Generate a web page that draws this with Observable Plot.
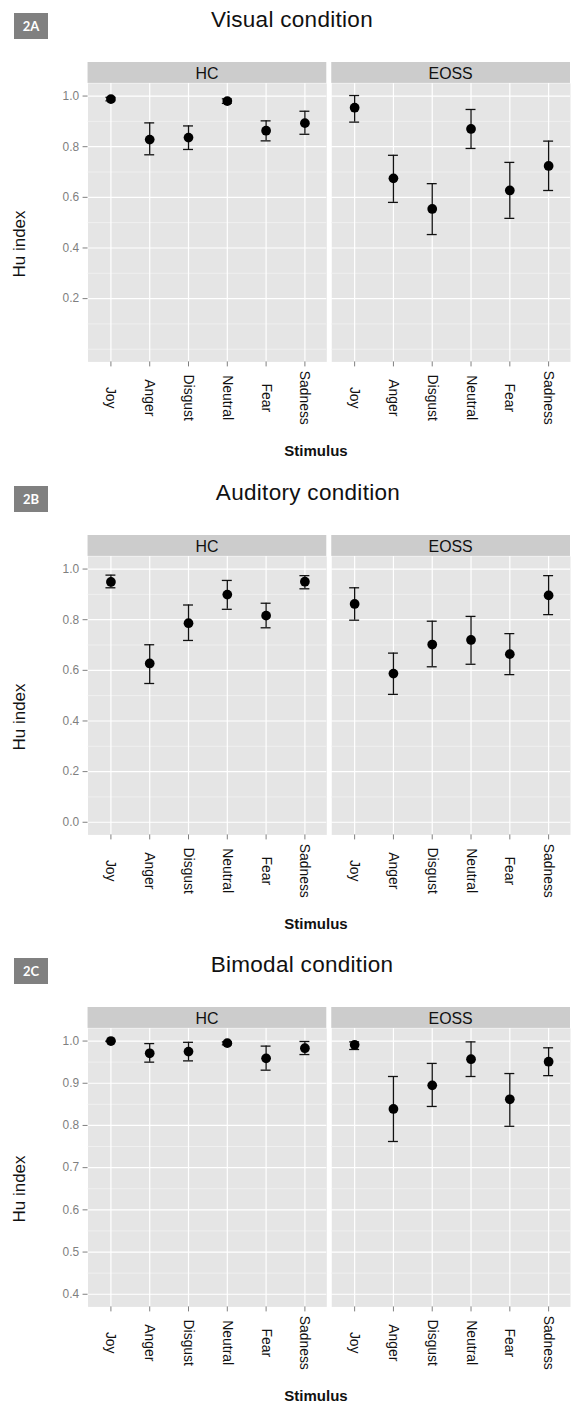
<!DOCTYPE html>
<html>
<head>
<meta charset="utf-8">
<script src="https://cdn.jsdelivr.net/npm/d3@7"></script>
<script src="https://cdn.jsdelivr.net/npm/@observablehq/plot@0.6"></script>
<style>
  html, body { margin: 0; padding: 0; background: #fff; overflow: hidden; }
  #page { position: relative; width: 571px; height: 1410px; overflow: hidden; font-family: "Liberation Sans", Arial, sans-serif; }
  .abs { position: absolute; white-space: nowrap; }
  .badge { background: #808080; color: #fff; font-family: Lato, "Open Sans", sans-serif; font-weight: bold; font-size: 13px; text-align: center; }
  .title { font-size: 22.5px; color: #111; transform: translate(-50%, -50%); letter-spacing: 0.3px; }
  .xlab { font-size: 15px; font-weight: bold; color: #111; transform: translate(-50%, -50%); }
  .ylab { font-size: 17px; color: #111; transform: translate(-50%, -50%) rotate(-90deg); }
</style>
</head>
<body>
<div id="page"></div>
<script>
const stimuli = ["Joy", "Anger", "Disgust", "Neutral", "Fear", "Sadness"];
const groups = ["HC", "EOSS"];

// 2A Visual condition
const visualHC_mean   = [0.988, 0.828, 0.836, 0.980, 0.863, 0.893];
const visualHC_lo     = [0.981, 0.768, 0.789, 0.971, 0.823, 0.849];
const visualHC_hi     = [0.995, 0.894, 0.882, 0.989, 0.902, 0.940];
const visualEOSS_mean = [0.954, 0.675, 0.554, 0.870, 0.627, 0.724];
const visualEOSS_lo   = [0.897, 0.580, 0.453, 0.793, 0.517, 0.627];
const visualEOSS_hi   = [1.002, 0.766, 0.654, 0.947, 0.738, 0.822];

// 2B Auditory condition
const auditoryHC_mean   = [0.949, 0.627, 0.786, 0.899, 0.816, 0.950];
const auditoryHC_lo     = [0.926, 0.548, 0.718, 0.841, 0.768, 0.922];
const auditoryHC_hi     = [0.976, 0.701, 0.858, 0.955, 0.865, 0.974];
const auditoryEOSS_mean = [0.862, 0.587, 0.702, 0.720, 0.664, 0.896];
const auditoryEOSS_lo   = [0.798, 0.505, 0.614, 0.624, 0.583, 0.820];
const auditoryEOSS_hi   = [0.926, 0.668, 0.794, 0.813, 0.745, 0.974];

// 2C Bimodal condition
const bimodalHC_mean   = [1.000, 0.971, 0.975, 0.995, 0.959, 0.983];
const bimodalHC_lo     = [0.999, 0.950, 0.953, 0.991, 0.931, 0.968];
const bimodalHC_hi     = [1.000, 0.994, 0.997, 0.998, 0.988, 0.999];
const bimodalEOSS_mean = [0.991, 0.839, 0.895, 0.957, 0.862, 0.951];
const bimodalEOSS_lo   = [0.980, 0.762, 0.845, 0.916, 0.798, 0.918];
const bimodalEOSS_hi   = [0.998, 0.916, 0.947, 0.998, 0.923, 0.984];

// axis ticks
const visualTicks = [0.2, 0.4, 0.6, 0.8, 1.0];
const visualMinor = [0.0, 0.1, 0.3, 0.5, 0.7, 0.9];
const auditoryTicks = [0.0, 0.2, 0.4, 0.6, 0.8, 1.0];
const auditoryMinor = [0.1, 0.3, 0.5, 0.7, 0.9];
const bimodalTicks = [0.4, 0.5, 0.6, 0.7, 0.8, 0.9, 1.0];
const bimodalMinor = [0.45, 0.55, 0.65, 0.75, 0.85, 0.95];

const badges = ["2A", "2B", "2C"];
const titles = ["Visual condition", "Auditory condition", "Bimodal condition"];
const xTitle = "Stimulus";
const yTitle = "Hu index";

const panels = [
  {badge: badges[0], title: titles[0], titleX: 292, top: 62, domain: [-0.05, 1.05], ticks: visualTicks, minor: visualMinor,
   series: [[visualHC_mean, visualHC_lo, visualHC_hi], [visualEOSS_mean, visualEOSS_lo, visualEOSS_hi]]},
  {badge: badges[1], title: titles[1], titleX: 308, top: 535, domain: [-0.05, 1.05], ticks: auditoryTicks, minor: auditoryMinor,
   series: [[auditoryHC_mean, auditoryHC_lo, auditoryHC_hi], [auditoryEOSS_mean, auditoryEOSS_lo, auditoryEOSS_hi]]},
  {badge: badges[2], title: titles[2], titleX: 302, top: 1007, domain: [0.37, 1.03], ticks: bimodalTicks, minor: bimodalMinor,
   series: [[bimodalHC_mean, bimodalHC_lo, bimodalHC_hi], [bimodalEOSS_mean, bimodalEOSS_lo, bimodalEOSS_hi]]}
];

const page = document.getElementById("page");
const FONT = "'Liberation Sans', Arial, sans-serif";
const STRIP = 21, PLOTH = 280, MLEFT = 87, W = 574, MBOTTOM = 72;

function addDiv(cls, text, css) {
  const d = document.createElement("div");
  d.className = "abs " + cls;
  d.textContent = text;
  Object.assign(d.style, css);
  page.appendChild(d);
  return d;
}

for (const p of panels) {
  const rows = groups.flatMap((g, gi) => stimuli.map((s, i) => ({
    group: g, stim: s, mean: p.series[gi][0][i], lo: p.series[gi][1][i], hi: p.series[gi][2][i]
  })));

  const plot = Plot.plot({
    width: W,
    height: STRIP + PLOTH + MBOTTOM,
    marginLeft: MLEFT, marginRight: 0, marginTop: STRIP, marginBottom: MBOTTOM,
    style: {fontFamily: FONT, background: "transparent", overflow: "visible"},
    fx: {domain: groups, paddingInner: 0.0203, paddingOuter: 0, axis: null, label: null},
    x: {type: "band", domain: stimuli, paddingInner: 0.75, paddingOuter: 0.425, label: null},
    y: {domain: p.domain, label: null},
    marks: [
      Plot.frame({fill: "#E5E5E5", stroke: "none"}),
      Plot.gridY(p.minor, {stroke: "#F2F2F2", strokeOpacity: 1, strokeWidth: 0.8}),
      Plot.gridY(p.ticks, {stroke: "#FFFFFF", strokeOpacity: 1, strokeWidth: 1.2}),
      Plot.gridX({stroke: "#FFFFFF", strokeOpacity: 1, strokeWidth: 1.2}),
      Plot.axisY(p.ticks, {tickSize: 5, tickPadding: 4, tickFormat: d3.format(".1f"), color: "#7F7F7F", fontSize: 12, label: null}),
      Plot.axisX({tickSize: 5, tickFormat: () => "", color: "#7F7F7F", label: null}),
      Plot.text(rows, {fx: "group", x: "stim", text: "stim", frameAnchor: "bottom", dy: 36, rotate: 90,
        textAnchor: "middle", lineAnchor: "middle", fontSize: 14, fill: "#111"}),
      Plot.ruleX(rows, {fx: "group", x: "stim", y1: "lo", y2: "hi", stroke: "#111", strokeWidth: 1.3}),
      Plot.tickY(rows, {fx: "group", x: "stim", y: "lo", stroke: "#111", strokeWidth: 1.3}),
      Plot.tickY(rows, {fx: "group", x: "stim", y: "hi", stroke: "#111", strokeWidth: 1.3}),
      Plot.dot(rows, {fx: "group", x: "stim", y: "mean", r: 4.9, fill: "#000", stroke: "none"})
    ]
  });

  // facet strips drawn from the fx scale
  const svg = d3.select(plot);
  let fx = null;
  try { fx = plot.scale("fx"); } catch (e) { fx = null; }
  const bw = fx && fx.bandwidth ? fx.bandwidth : (W - MLEFT - 5) / 2;
  const strips = svg.append("g");
  groups.forEach((g, i) => {
    const x0 = fx ? fx.apply(g) : MLEFT + i * (bw + 5);
    strips.append("rect").attr("x", x0).attr("y", 0).attr("width", bw).attr("height", STRIP).attr("fill", "#CCCCCC");
    strips.append("text").attr("x", x0 + bw / 2).attr("y", STRIP / 2 + 1).attr("text-anchor", "middle")
      .attr("dominant-baseline", "central").style("font-size", "16px").attr("fill", "#111")
      .style("font-family", FONT).text(g);
  });

  plot.style.position = "absolute";
  plot.style.left = "0px";
  plot.style.top = p.top + "px";
  page.appendChild(plot);

  const titleY = p.top - 42;
  addDiv("badge", p.badge, {left: "14px", top: (titleY - 7) + "px", width: "34px", height: "26px", lineHeight: "26px"});
  addDiv("title", p.title, {left: p.titleX + "px", top: titleY + "px"});
  const plotBottom = p.top + STRIP + PLOTH;
  addDiv("xlab", xTitle, {left: "316px", top: (plotBottom + 87) + "px"});
  addDiv("ylab", yTitle, {left: "20px", top: ((p.top + plotBottom + 62) / 2) + "px"});
}
</script>
</body>
</html>
